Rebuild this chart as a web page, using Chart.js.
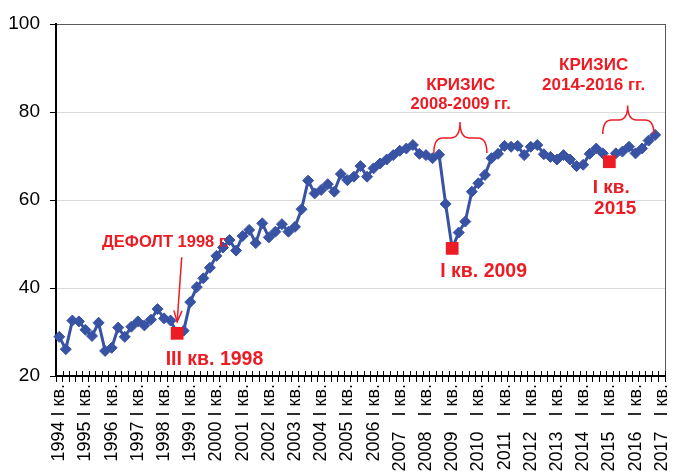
<!DOCTYPE html>
<html><head><meta charset="utf-8">
<script src="https://cdn.jsdelivr.net/npm/chart.js@4"></script>
<style>html,body{margin:0;padding:0;background:#fff}</style>
</head><body>
<canvas id="c" width="674" height="472"></canvas>
<script>
// ---- data ----
const years = [1994,1995,1996,1997,1998,1999,2000,2001,2002,2003,2004,2005,2006,2007,2008,2009,2010,2011,2012,2013,2014,2015,2016,2017];
const quarters = ["I","II","III","IV"];
const yearTickLabels = ["1994 I кв.","1995 I кв.","1996 I кв.","1997 I кв.","1998 I кв.","1999 I кв.","2000 I кв.","2001 I кв.","2002 I кв.","2003 I кв.","2004 I кв.","2005 I кв.","2006 I кв.","2007   I кв.","2008   I кв.","2009   I кв.","2010   I кв.","2011   I кв.","2012   I кв.","2013   I кв.","2014   I кв.","2015   I кв.","2016   I кв.","2017   I кв."];
const shareValues = [
  28.9,26.1,32.6,32.4, 30.5,29.1,32.1,25.7, 26.4,31.0,28.9,31.2, 32.4,31.5,32.8,35.2,
  33.1,32.6,29.7,30.3, 36.8,40.2,42.2,44.6, 47.3,49.2,50.9,48.5, 51.8,53.2,50.2,54.7,
  51.5,52.8,54.5,52.8, 53.9,57.9,64.4,61.5, 62.3,63.6,61.9,65.9, 64.5,65.3,67.7,65.3,
  67.2,68.3,69.2,70.2, 71.2,71.7,72.5,70.5, 70.2,69.5,70.3,59.1, 49.0,52.6,55.1,61.9,
  63.8,65.7,69.5,70.5, 72.3,72.1,72.3,70.2, 72.1,72.5,70.4,69.8, 69.2,70.2,69.2,67.7,
  68.0,70.5,71.7,70.6, 68.7,70.6,71.0,72.1, 70.6,71.7,73.5,74.8, null
];
const markedCategories = ["1998 III кв.","2009 I кв.","2015 I кв."];
const yTicks = [20,40,60,80,100];

const categories = [];
years.forEach(y => quarters.forEach(q => { if (categories.length < shareValues.length) categories.push(y + " " + q + " кв."); }));
const markedValues = categories.map((c, i) => markedCategories.includes(c) ? shareValues[i] : null);

// ---- annotations (data coordinates: category index, value) ----
const RED = '#ED1C24';
const FONT = '"Liberation Sans", Arial, sans-serif';
const texts = [
  {t:"ДЕФОЛТ 1998 г.", i:16.2, v:50.7, s:16.5},
  {t:"III кв. 1998", i:23.7, v:24.1, s:19.5},
  {t:"I кв. 2009", i:64.8, v:44.1, s:19.5},
  {t:"КРИЗИС", i:61.3, v:86.4, s:17},
  {t:"2008-2009 гг.", i:61.3, v:82.0, s:16.5},
  {t:"КРИЗИС", i:81.6, v:91.0, s:17},
  {t:"2014-2016 гг.", i:81.6, v:86.5, s:17},
  {t:"I кв.", i:84.3, v:63.2, s:19},
  {t:"2015", i:84.9, v:58.3, s:19}
];
const braces = [
  {l:57.2, m:61.2, r:65.3, vEnd:70.7, vH:74.1, vTip:77.7},
  {l:83.0, m:86.8, r:90.8, vEnd:75.0, vH:78.2, vTip:81.5}
];
const arrow = {i0:18.7, v0:47.0, i1:18.0, v1:32.3};

const deco = {
  id:'deco',
  afterDraw(chart){
    const {ctx, chartArea:a, scales:{x, y}} = chart;
    const px = i => x.left + (i + 0.5) * (x.width / categories.length);
    ctx.save();
    // right border
    ctx.strokeStyle = '#595959'; ctx.lineWidth = 1;
    ctx.beginPath(); ctx.moveTo(a.right + 0.5, a.top); ctx.lineTo(a.right + 0.5, a.bottom); ctx.stroke();
    // inner part of x ticks
    ctx.strokeStyle = '#000';
    for (let k = 0; k <= categories.length; k++) {
      const xx = Math.round(x.left + k * x.width / categories.length) + 0.5;
      ctx.beginPath(); ctx.moveTo(xx, a.bottom - 5); ctx.lineTo(xx, a.bottom); ctx.stroke();
    }
    // texts
    ctx.fillStyle = RED;
    ctx.textAlign = 'center'; ctx.textBaseline = 'alphabetic';
    texts.forEach(o => { ctx.font = 'bold ' + o.s + 'px ' + FONT; ctx.fillText(o.t, px(o.i), y.getPixelForValue(o.v) + 0.36 * o.s); });
    // braces
    ctx.strokeStyle = RED; ctx.lineWidth = 1.5;
    braces.forEach(b => {
      const L = px(b.l), M = px(b.m), R = px(b.r);
      const yE = y.getPixelForValue(b.vEnd), yH = y.getPixelForValue(b.vH), yT = y.getPixelForValue(b.vTip);
      const r = 9;
      ctx.beginPath();
      ctx.moveTo(L, yE);
      ctx.quadraticCurveTo(L, yH, L + r, yH);
      ctx.lineTo(M - r, yH);
      ctx.quadraticCurveTo(M, yH, M, yT);
      ctx.quadraticCurveTo(M, yH, M + r, yH);
      ctx.lineTo(R - r, yH);
      ctx.quadraticCurveTo(R, yH, R, yE);
      ctx.stroke();
    });
    // arrow
    const x0 = px(arrow.i0), y0 = y.getPixelForValue(arrow.v0), x1 = px(arrow.i1), y1 = y.getPixelForValue(arrow.v1);
    ctx.beginPath(); ctx.moveTo(x0, y0); ctx.lineTo(x1, y1); ctx.stroke();
    const ang = Math.atan2(y1 - y0, x1 - x0), hl = 12, hw = 0.35;
    ctx.beginPath();
    ctx.moveTo(x1 - hl * Math.cos(ang - hw), y1 - hl * Math.sin(ang - hw));
    ctx.lineTo(x1, y1);
    ctx.lineTo(x1 - hl * Math.cos(ang + hw), y1 - hl * Math.sin(ang + hw));
    ctx.stroke();
    ctx.restore();
  }
};

new Chart(document.getElementById('c'), {
  type: 'line',
  data: {
    labels: categories,
    datasets: [
      {data: markedValues, showLine:false, pointStyle:'rect', pointRadius:9, pointBackgroundColor:RED, pointBorderWidth:0, borderColor:RED},
      {data: shareValues, borderColor:'#3953A4', borderWidth:3, tension:0, pointStyle:'rectRot', pointRadius:5.5, pointBackgroundColor:'#3953A4', pointBorderColor:'#3953A4', pointBorderWidth:1}
    ]
  },
  options: {
    responsive:false, animation:false, devicePixelRatio:1,
    layout:{padding:{top:24, right:0, left:0, bottom:0}},
    plugins:{legend:{display:false}, tooltip:{enabled:false}},
    scales:{
      x:{
        offset:true,
        grid:{offset:true, drawOnChartArea:false, tickLength:6, color:'#000'},
        border:{color:'#000', width:2},
        ticks:{autoSkip:false, maxRotation:90, minRotation:90, padding:2, color:'#000',
          font:{family:FONT, size:18},
          callback:(v, i) => i % 4 === 0 ? yearTickLabels[i / 4] : ''},
        afterFit: s => { s.height = 96; s.paddingLeft = 0; s.paddingRight = 0; }
      },
      y:{
        min:20, max:100,
        afterBuildTicks: s => { s.ticks = yTicks.map(v => ({value:v})); },
        grid:{color: c => c.tick && c.tick.value === 100 ? '#595959' : '#d9d9d9', tickColor:'#000', tickLength:6},
        border:{color:'#000', width:2},
        ticks:{color:'#000', padding:10, font:{family:FONT, size:19}},
        afterFit: s => { s.width = 56; s.paddingTop = 0; s.paddingBottom = 0; }
      }
    }
  },
  plugins:[deco]
});
</script>
</body></html>
